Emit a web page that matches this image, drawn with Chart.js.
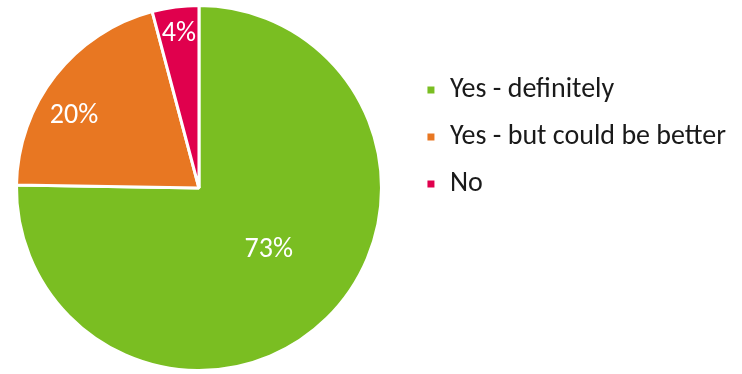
<!DOCTYPE html>
<html>
<head>
<meta charset="utf-8">
<script src="https://cdn.jsdelivr.net/npm/chart.js@4/dist/chart.umd.min.js"></script>
<style>
  html, body { margin: 0; padding: 0; background: #fff; }
  #wrap { width: 742px; height: 374px; }
</style>
</head>
<body>
<div id="wrap"><canvas id="my-chart" width="742" height="374"></canvas></div>
<script>
const answers = ['Yes - definitely', 'Yes - but could be better', 'No'];
const shares = [73, 20, 4];
const sliceColors = ['#7abe22', '#e87722', '#e0004d'];

const FONT = 'Carlito, Calibri, Lato, sans-serif';

// where to put each % label inside its slice (fraction along the arc, fraction of radius)
const labelSpot = [[0.485, 0.51], [0.39, 0.79], [0.5, 0.85]];

const pieLabels = {
  id: 'pieLabels',
  afterDatasetsDraw(chart) {
    const ctx = chart.ctx;
    const meta = chart.getDatasetMeta(0);
    ctx.save();
    ctx.fillStyle = '#ffffff';
    ctx.font = '28px ' + FONT;
    ctx.textAlign = 'center';
    ctx.textBaseline = 'middle';
    meta.data.forEach((arc, i) => {
      const p = arc.getProps(['x', 'y', 'startAngle', 'endAngle', 'outerRadius'], true);
      const spot = labelSpot[i];
      const a = p.startAngle + (p.endAngle - p.startAngle) * spot[0];
      const r = p.outerRadius * spot[1];
      ctx.fillText(shares[i] + '%', p.x + Math.cos(a) * r, p.y + Math.sin(a) * r);
    });
    ctx.restore();
  }
};

const ctx = document.getElementById('my-chart').getContext('2d');
const chart = new Chart(ctx, {
  type: 'pie',
  data: {
    // one-line arrays so the legend row height follows font.lineHeight
    labels: answers.map(a => [a]),
    datasets: [{
      data: shares,
      backgroundColor: sliceColors,
      borderColor: '#ffffff',
      borderWidth: 3
    }]
  },
  options: {
    responsive: false,
    animation: false,
    layout: { padding: { left: 0, top: 4, bottom: 2, right: 6 } },
    plugins: {
      tooltip: { enabled: false },
      legend: {
        position: 'right',
        align: 'start',
        maxWidth: 339,
        title: { display: true, text: '', font: { size: 12, lineHeight: 1 }, padding: { top: 32, bottom: 0 } },
        labels: {
          boxWidth: 10,
          boxHeight: 10,
          padding: 28,
          color: '#1a1a1a',
          font: { family: FONT, size: 28, lineHeight: '19px' }
        }
      }
    }
  },
  plugins: [pieLabels]
});
</script>
</body>
</html>
